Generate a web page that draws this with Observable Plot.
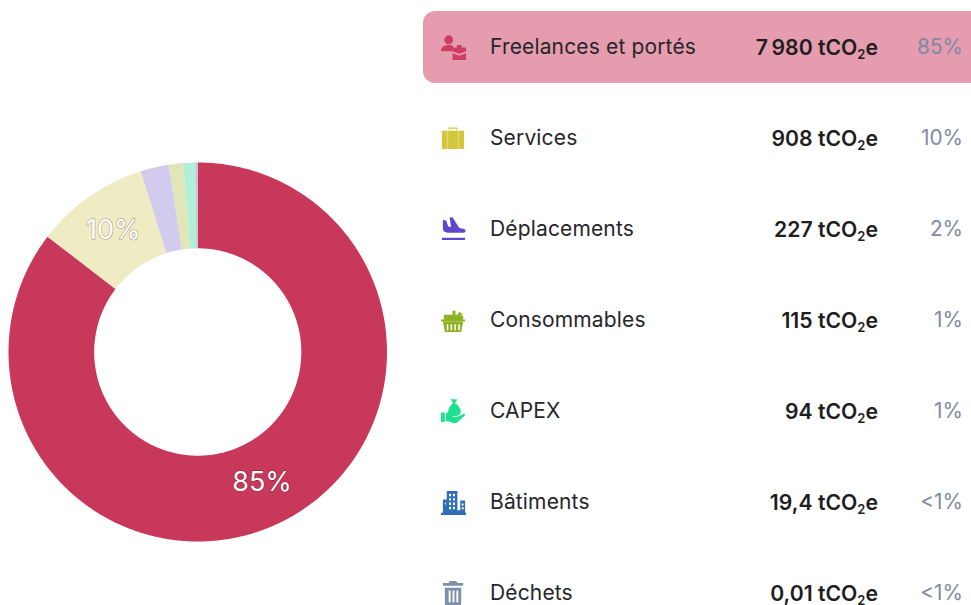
<!DOCTYPE html>
<html lang="fr">
<head>
<meta charset="utf-8">
<script src="https://cdn.jsdelivr.net/npm/d3@7"></script>
<script src="https://cdn.jsdelivr.net/npm/@observablehq/plot@0.6"></script>
<style>
html,body{margin:0;padding:0;background:#fff;width:971px;height:605px;overflow:hidden;font-family:Inter,sans-serif;}
#chart{position:absolute;left:0;top:0;}
#list{position:absolute;left:0;top:0;width:971px;height:605px;overflow:hidden;}
.row{position:absolute;left:423px;width:600px;height:72px;border-radius:12px;}
.row.hi{background:#e59cae;}
.row svg{position:absolute;left:17px;top:23px;width:27px;height:27px;}
.name{position:absolute;left:67px;top:0;line-height:72px;font-size:21px;color:#26262b;white-space:nowrap;letter-spacing:.15px;}
.val{position:absolute;right:145px;top:0;line-height:72px;font-size:21.2px;font-weight:600;color:#1e1e22;white-space:nowrap;}
.val sub{font-size:13px;line-height:0;vertical-align:-4px;}
.pct{position:absolute;right:60px;top:0;line-height:72px;font-size:20.8px;color:#8288a6;white-space:nowrap;}
</style>
</head>
<body>
<div id="chart"></div>
<div id="list"></div>
<script>
const categories = ["Freelances et portés","Services","Déplacements","Consommables","CAPEX","Bâtiments","Déchets"];
const values = [7980,908,227,115,94,19.4,0.01];
const valueLabels = ["7\u202F980","908","227","115","94","19,4","0,01"];
const percentLabels = ["85%","10%","2%","1%","1%","<1%","<1%"];
const sliceColors = ["#c8385a","#efebc3","#d3cbee","#e0e6b8","#b0f0d7","#c3bfe0","#c9d0da"];
const iconColors = ["#cf3d62","#d2c63c","#5f47cb","#8fb224","#1fe08e","#2f6eb2","#7e90a9"];
const sliceLabels = ["85%","10%","","","","",""];

const icons = [
  '<circle cx="9" cy="6" r="4.600"/><path d="M1 18c0-4 3-6.500 8-6.500 1.800 0 3.300.3 4.500.8V18z"/><path d="M13 14h4.500v-2.500h5V14H27v4l-7 2.500-7-2.500zM13 20l7 2.500 7-2.500v7H13z"/>',
  '<path d="M9 5V2.500h9V5h-1.500V4h-6v1zM2 6h23v19H2z"/><path d="M7 6h1.500v19H7zM18.500 6H20v19h-1.500z" fill="#fff" fill-opacity=".3"/>',
  '<path d="M3 4l3.500.8 2 6 3 .7L10 1.500l3-.3 7 11.300 5 1c2 .5 2 3.800-.5 3.800H8c-3 0-5-1.500-5-4.500zM2 22.500h24V25H2z"/>',
  '<path d="M4 8h9V4h3v4h2l2-3 3 2-1 2h2v4.500H4zM1 13h25v2H1z"/><path d="M3 15h21l-2 11H5zM7 18v6h1.600v-6zm4 0v6h1.600v-6zm4 0v6h1.600v-6zm4 0v6h1.600v-6z" fill-rule="evenodd"/>',
  '<path d="M11 1l7 .5-2.500 4c3.500 2 6 5 6 8.500 0 3-2.500 4.500-6.500 4.500S8.500 17 8.500 14c0-3.500 2.500-6.500 5-8.500z"/><path d="M1 15h4v10H1zM6 16c3-2 5-1 8 0h4c1 1 0 2.500-1 2.500h-4v1h5l6-3c2-.5 2.500 1 1.500 2L18 25.500c-3 1-6 0-9-1.500H6z"/>',
  '<path d="M7 2h11v20h3v-10h5v12.500h1V27H1v-2.500h2V11h4z"/><path d="M9.500 5h2v2.500h-2zm4 0h2v2.500h-2zm-4 4.500h2V12h-2zm4 0h2V12h-2zm-4 4.500h2v2.500h-2zm4 0h2v2.500h-2zm-4 4.500h2v2.500h-2zm4 0h2v2.500h-2zM5 14h1v2H5zm17.500 1h2v2h-2zm0 4h2v2h-2z" fill="#fff"/>',
  '<path d="M10 1h7l1 2h6v3H3V3h6z"/><path d="M5 8h17v16c0 2-1 3-3 3H8c-2 0-3-1-3-3zM9 11v12h2V11zm4 0v12h2V11zm4 0v12h2V11z" fill-rule="evenodd"/>'
];

const slices = d3.pie().sort(null).startAngle(0).endAngle(2 * Math.PI)(values);
const inner = 103.7 / 189.5;
const polygons = slices.flatMap((s, i) => {
  const n = Math.max(2, Math.ceil((s.endAngle - s.startAngle) / 0.01));
  const angles = d3.range(n + 1).map(k => s.startAngle + (s.endAngle - s.startAngle) * k / n);
  const pt = (a, r) => ({name: categories[i], x: r * Math.sin(a), y: r * Math.cos(a)});
  return [...angles.map(a => pt(a, 1)), ...angles.reverse().map(a => pt(a, inner))];
});
const labels = slices.map((s, i) => {
  const a = (s.startAngle + s.endAngle) / 2, r = (1 + inner) / 2;
  return {text: sliceLabels[i], x: r * Math.sin(a), y: r * Math.cos(a)};
}).filter(d => d.text);

const plot = Plot.plot({
  width: 971, height: 605,
  margin: 0,
  style: {background: "transparent", fontFamily: "Inter, sans-serif"},
  x: {axis: null, domain: [-1, 1], range: [8, 386.5]},
  y: {axis: null, domain: [-1, 1], range: [541, 162]},
  color: {domain: categories, range: sliceColors},
  marks: [
    Plot.line(polygons, {x: "x", y: "y", z: "name", fill: "name", stroke: "none", strokeWidth: 0}),
    Plot.text(labels, {x: "x", y: "y", text: "text", dx: -0.5, dy: -1.5, fontSize: 27, fill: "#fff",
      stroke: "#000", strokeOpacity: 0.28, strokeWidth: 1.5, paintOrder: "stroke"})
  ]
});
document.getElementById("chart").append(plot);

const list = document.getElementById("list");
categories.forEach((c, i) => {
  const row = document.createElement("div");
  row.className = "row" + (i === 0 ? " hi" : "");
  row.style.top = (11 + i * 91) + "px";
  row.innerHTML =
    `<svg viewBox="0 0 28 28" fill="${iconColors[i]}">${icons[i]}</svg>` +
    `<span class="name">${c}</span>` +
    `<span class="val">${valueLabels[i]} tCO<sub>2</sub>e</span>` +
    `<span class="pct">${percentLabels[i].replace("<", "&lt;")}</span>`;
  list.append(row);
});
</script>
</body>
</html>
